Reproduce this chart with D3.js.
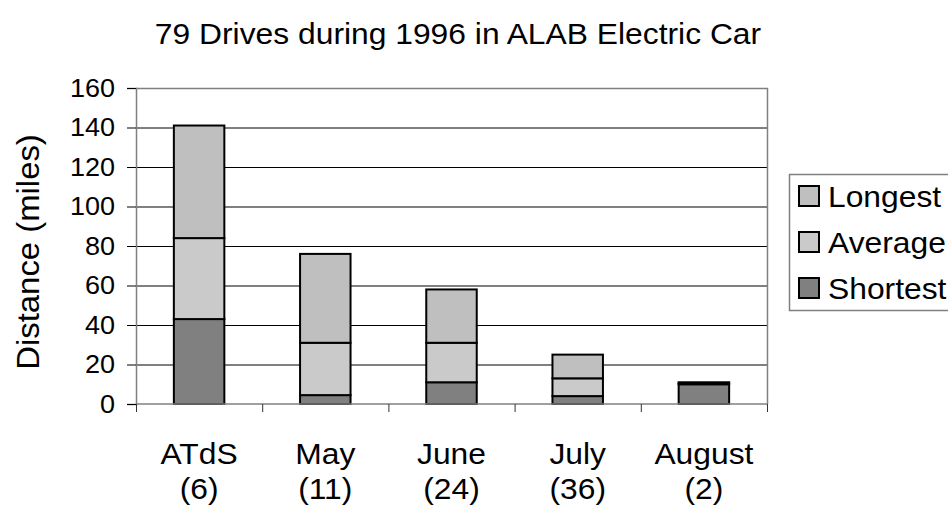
<!DOCTYPE html>
<meta charset="utf-8">
<script src="https://d3js.org/d3.v7.min.js"></script>
<style>
  body { margin: 0; background: #fff; }
  text { font-family: "Liberation Sans", Arial, sans-serif; fill: #000; }
</style>
<div id="chart"></div>
<script>
  // categories and series (cumulative levels)
  const categories = ["ATdS", "May", "June", "July", "August"]
  const counts = ["(6)", "(11)", "(24)", "(36)", "(2)"]
  const shortest = [43, 4.5, 11, 4, 10]
  const average = [84, 31, 31, 13, 10.5]
  const longest = [141, 76, 58, 25, 11]
  const yTicks = [0, 20, 40, 60, 80, 100, 120, 140, 160]

  const seriesNames = ["Longest", "Average", "Shortest"]
  const seriesColors = { Longest: "#bfbfbf", Average: "#cacaca", Shortest: "#808080" }

  const width = 948, height = 509
  const plot = { left: 136, right: 767, top: 88, bottom: 404 }
  const stretch = 1.06 // the original text is a little wide

  const svg = d3.select("#chart").append("svg")
      .attr("width", width)
      .attr("height", height)

  // widen text horizontally to match the reference
  function widen(sel) {
    sel.each(function() {
      const len = this.getComputedTextLength()
      d3.select(this).attr("textLength", len * stretch).attr("lengthAdjust", "spacingAndGlyphs")
    })
  }

  const x = d3.scaleBand()
    .domain(categories)
    .range([plot.left, plot.right])
    .paddingInner(0.6)
    .paddingOuter(0.3)

  const xEdges = d3.scaleBand().domain(categories).range([plot.left, plot.right])

  const y = d3.scaleLinear()
    .domain([0, 160])
    .range([plot.bottom, plot.top])

  // gridlines
  svg.append("g")
    .selectAll("line")
    .data(yTicks.filter(d => d > 0 && d < 160))
    .join("line")
      .attr("x1", plot.left).attr("x2", plot.right)
      .attr("y1", d => y(d) + 0.5).attr("y2", d => y(d) + 0.5)
      .attr("stroke", "#000")
      .attr("stroke-width", 1)

  // plot frame (top and right)
  svg.append("path")
    .attr("d", `M${plot.left},${plot.top + 0.5}H${plot.right + 0.5}V${plot.bottom}`)
    .attr("fill", "none")
    .attr("stroke", "#808080")
    .attr("stroke-width", 1.5)

  // stacked segments
  const rows = categories.map((c, i) => ({
    cat: c,
    segs: [
      { name: "Shortest", y0: 0, y1: shortest[i] },
      { name: "Average", y0: shortest[i], y1: average[i] },
      { name: "Longest", y0: average[i], y1: longest[i] }
    ]
  }))

  svg.append("g")
    .selectAll("g")
    .data(rows)
    .join("g")
    .selectAll("rect")
    .data(d => d.segs.map(s => ({ ...s, cat: d.cat })))
    .join("rect")
      .attr("x", d => x(d.cat))
      .attr("width", x.bandwidth())
      .attr("y", d => y(d.y1))
      .attr("height", d => y(d.y0) - y(d.y1))
      .attr("fill", d => seriesColors[d.name])
      .attr("stroke", "#000")
      .attr("stroke-width", 2)

  // y axis
  const yAxis = svg.append("g")
    .attr("transform", `translate(${plot.left},0)`)
    .call(d3.axisLeft(y).tickValues(yTicks).tickSize(9).tickPadding(12))
  yAxis.select(".domain").attr("stroke", "#808080").attr("stroke-width", 1.5)
  yAxis.selectAll(".tick line").attr("stroke", "#000")
  yAxis.selectAll("text")
    .attr("font-size", 25.5)
    .attr("font-family", "Liberation Sans, Arial, sans-serif")
    .call(widen)

  // x axis: ticks on category edges
  const xAxis = svg.append("g")
    .attr("transform", `translate(0,${plot.bottom})`)
  xAxis.append("line")
    .attr("x1", plot.left).attr("x2", plot.right + 1)
    .attr("stroke", "#808080").attr("stroke-width", 1.5)
  xAxis.selectAll(".edge")
    .data(categories.concat(["end"]))
    .join("line")
      .attr("class", "edge")
      .attr("x1", d => d === "end" ? plot.right + 0.5 : xEdges(d) + 0.5)
      .attr("x2", d => d === "end" ? plot.right + 0.5 : xEdges(d) + 0.5)
      .attr("y1", 0).attr("y2", 8)
      .attr("stroke", "#333")

  const labels = svg.append("g")
    .selectAll("g")
    .data(categories)
    .join("g")
      .attr("transform", d => `translate(${x(d) + x.bandwidth() / 2},0)`)
  labels.append("text")
    .attr("y", 464)
    .attr("text-anchor", "middle")
    .attr("font-size", 30)
    .text(d => d)
    .call(widen)
  labels.append("text")
    .attr("y", 499)
    .attr("text-anchor", "middle")
    .attr("font-size", 30)
    .text((d, i) => counts[i])
    .call(widen)

  // y axis title
  svg.append("text")
    .attr("transform", `translate(39,252) rotate(-90)`)
    .attr("text-anchor", "middle")
    .attr("font-size", 31)
    .text("Distance (miles)")
    .call(widen)

  // title
  svg.append("text")
    .attr("x", 458)
    .attr("y", 44)
    .attr("text-anchor", "middle")
    .attr("font-size", 30)
    .text("79 Drives during 1996 in ALAB Electric Car")
    .call(widen)

  // legend
  const legend = svg.append("g")
  legend.append("rect")
    .attr("x", 789.5).attr("y", 174.5)
    .attr("width", 200).attr("height", 136)
    .attr("fill", "#fff")
    .attr("stroke", "#808080")
    .attr("stroke-width", 1.5)
  const items = legend.selectAll(".item")
    .data(seriesNames)
    .join("g")
      .attr("class", "item")
      .attr("transform", (d, i) => `translate(799,${186 + i * 46})`)
  items.append("rect")
    .attr("width", 20).attr("height", 20)
    .attr("fill", d => seriesColors[d])
    .attr("stroke", "#000")
    .attr("stroke-width", 2)
  items.append("text")
    .attr("x", 29)
    .attr("y", 21)
    .attr("font-size", 30)
    .text(d => d)
    .call(widen)
</script>
